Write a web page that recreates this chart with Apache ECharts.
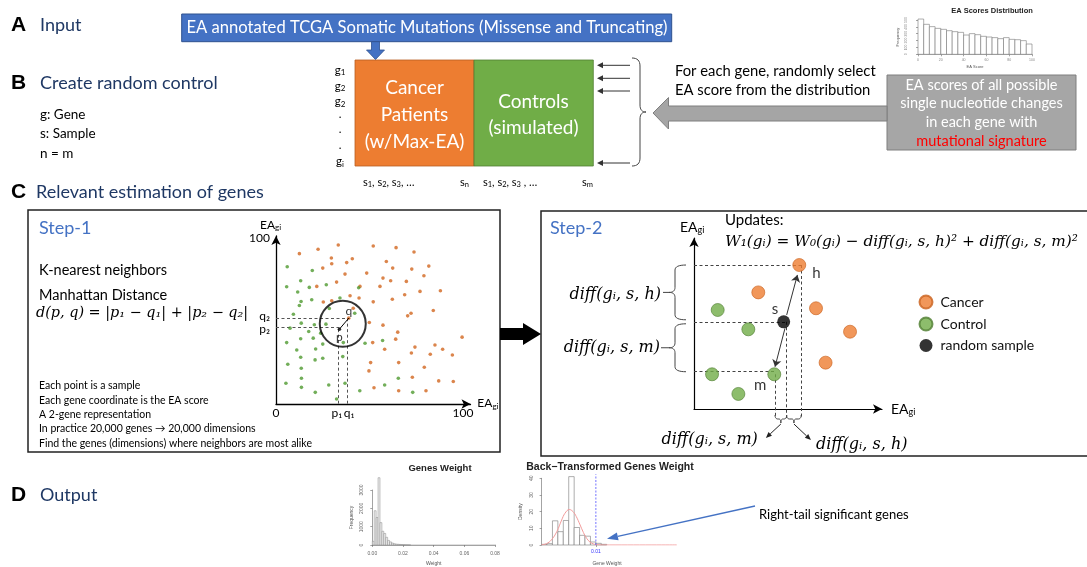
<!DOCTYPE html>
<html><head><meta charset="utf-8">
<script src="https://cdn.jsdelivr.net/npm/echarts@6/dist/echarts.min.js"></script>
<style>html,body{margin:0;padding:0;background:#fff}#c{width:1087px;height:567px}</style>
</head><body><div id="c"></div>
<script>
// ---------------- DATA ----------------
const eaBinStarts=[0,5,10,15,20,25,30,35,40,45,50,55,60,65,70,75,80,85,90,95];
const eaCounts=[514,437,403,378,364,344,330,320,281,301,286,262,252,243,228,243,218,213,199,150];
const eaBinWidth=5;
const step1Cancer=[[12.5,90.4],[22.5,93],[33.3,95.6],[52,95],[64.2,94],[73.8,91.4],[29.6,87.8],[29.8,84.3],[37.8,85],[40.8,87.3],[25,81.7],[36.9,78.1],[48.5,78.7],[59,85.7],[62.4,81.7],[72.6,81.1],[81.7,82.9],[57.2,75.7],[61.3,74.1],[79.1,77.1],[21.8,70.7],[32.4,73.3],[44.9,70.7],[55.6,70.7],[69.7,73.7],[39.6,65.1],[25.3,61.3],[29.8,62],[44.4,63.7],[52,61.4],[62.2,63],[68.8,65.7],[77,67.7],[87.9,68.1],[41.3,57.6],[38.9,51.6],[49.9,49],[57.2,47.4],[70.4,53],[72.2,54.6],[84.1,56.2],[65.1,43.2],[64,39],[99.5,40.2],[51.7,36.9],[58.1,32.9],[74.3,34.2],[72.4,30.7],[85,35.5],[89.1,32.9],[82.5,29.9],[94.3,29.5],[50.6,24.9],[65.6,24.9],[79.3,22.1],[49.7,19.9],[72.9,16.1],[87,13.9],[94.8,13.5],[52.4,9.8],[65.6,8],[80.2,8]];
const step1Control=[[6,82.5],[19.4,80.3],[5.7,70.5],[13.2,74.1],[17.8,70.1],[26.9,71.7],[11.6,67.3],[44.2,69.9],[13.4,61.6],[19.1,62.7],[12.5,59.2],[34.2,63.7],[9.3,54],[28.5,57.4],[42.1,54.6],[13.5,48.6],[20.5,47.6],[26.7,48],[7.5,45.6],[17.5,43.6],[23.9,42.6],[5.7,36.9],[13.2,39.2],[19.9,39.6],[25,36],[36,36.9],[47.6,36.5],[57,38.2],[11.1,32.5],[21.2,33.1],[13.2,28.1],[20.9,26.5],[25,27.5],[35.7,28.5],[6.3,23.9],[13.5,21.5],[5.3,12.5],[13.6,15.5],[13.6,10],[21,7],[28.2,11.4],[36.9,12.5],[44.8,8],[58.1,11.4],[65.4,15.5],[73.1,7],[32.4,3]];
const step1P=[33.9,45];
const step1Q=[38.9,51.6];
const step1CircleCenter=[35.7,48.2];
const step1PLines={p1:33.3,q1:38.3,p2:46,q2:51.6};
const step2Cancer=[[56,84.2],[34.2,68.2],[64.9,58.9],[83,45.2],[70,27.1]];
const step2Control=[[12.6,57.9],[28.9,46.6],[9.6,20.3],[42.7,20.3],[23.6,8.8]];
const step2Random=[[47.7,51]];
const step2Guide={hX:57,sX:49.3,mX:43.1,hY:84.2,sY:51,mY:20.3,below:-5.3};
const step2ArrowSH=[[49.3,55],[55,78.4]];
const step2ArrowSM=[[48.4,47.2],[43.1,24.7]];
const gwBinStarts=[0,0.00125,0.0025,0.00375,0.005,0.00625,0.0075,0.00875,0.01,0.01125,0.0125,0.01375,0.015,0.01625,0.0175,0.01875,0.02,0.02125,0.0225,0.02375];
const gwCounts=[200,1870,1500,3670,1220,750,630,420,250,170,110,70,50,40,30,20,15,10,8,5];
const gwBinWidth=0.00125;
const gwRangeEnd=0.0876;
const btBinStarts=[0,0.001,0.002,0.003,0.004,0.005,0.006,0.007,0.008,0.009,0.010,0.011];
const btDensity=[0.4,0.8,14.5,8,14.7,41,10.5,5.8,5.3,1.8,1,0.4];
const btBinWidth=0.001;
const btCurveX=[0,0.0009,0.0018,0.0028,0.0037,0.0043,0.0051,0.0058,0.0064,0.0071,0.0077,0.0083,0.0089,0.0095,0.0101,0.0114,0.0249];
const btCurveY=[0.1,0.8,3,8,15,19,21.3,20,17,12,7.5,4,1.8,0.7,0.2,0,0];
const btCutoff=0.01;
const btCutoffTop=42.4;

// ---------------- HELPERS ----------------
const BLUE='#4472C4', NAVY='#1F3864', ORANGE='#ED7D31', GREEN='#70AD47';
const FONT='Lato, "Open Sans", "DejaVu Sans", sans-serif';
const MATH='"DejaVu Serif", "Liberation Serif", serif';
const G=[];
function T(x,y,text,o){G.push({type:'text',x:x,y:y,z:20,style:Object.assign({text:text,fill:'#000',fontSize:14,fontFamily:FONT,align:'left',verticalAlign:'middle'},o||{})});}
function R(x,y,w,h,o){G.push({type:'rect',z:5,shape:{x:x,y:y,width:w,height:h},style:Object.assign({fill:'none',stroke:'#000',lineWidth:1},o||{})});}
function POLY(pts,o){G.push({type:'polygon',z:6,shape:{points:pts},style:Object.assign({fill:'#000'},o||{})});}
function CURVE(segs,o){let pts=[],cur=null;const polys=[];
  segs.forEach(function(s){
    if(s[0]==='M'){if(pts.length>1)polys.push(pts);pts=[[s[1],s[2]]];cur=[s[1],s[2]];}
    else if(s[0]==='L'){pts.push([s[1],s[2]]);cur=[s[1],s[2]];}
    else {for(let k=1;k<=8;k++){const t=k/8,u=1-t;pts.push([u*u*cur[0]+2*u*t*s[1]+t*t*s[3],u*u*cur[1]+2*u*t*s[2]+t*t*s[4]]);}cur=[s[3],s[4]];}
  });
  if(pts.length>1)polys.push(pts);
  polys.forEach(function(p){G.push({type:'polyline',z:15,shape:{points:p},style:Object.assign({fill:null,stroke:'#444',lineWidth:1},o||{})});});}
function ARROW(x1,y1,x2,y2,color,w,hl,hw){const a=Math.atan2(y2-y1,x2-x1);const bx=x2-hl*Math.cos(a),by=y2-hl*Math.sin(a);const px=-Math.sin(a)*hw/2,py=Math.cos(a)*hw/2;
  G.push({type:'line',z:15,shape:{x1:x1,y1:y1,x2:bx,y2:by},style:{stroke:color,lineWidth:w}});
  G.push({type:'polygon',z:15,shape:{points:[[x2,y2],[bx+px,by+py],[bx-px,by-py]]},style:{fill:color}});}
function histItem(fill,stroke,lw){return function(params,api){const x0=api.value(0),x1=api.value(1),h=api.value(2);const a=api.coord([x0,h]),b=api.coord([x1,0]);
  return {type:'rect',shape:{x:a[0],y:a[1],width:b[0]-a[0],height:b[1]-a[1]},style:{fill:fill,stroke:stroke,lineWidth:lw}};};}
const sub={a:{fontSize:12,fontFamily:FONT,lineHeight:14,verticalAlign:'middle'},s:{fontSize:8,fontFamily:FONT,lineHeight:8,verticalAlign:'bottom'}};
const sub2={a:{fontSize:14,fontFamily:FONT,lineHeight:16,verticalAlign:'middle'},s:{fontSize:9,fontFamily:FONT,lineHeight:9,verticalAlign:'bottom'}};
const rAxis={axisLine:{show:true,lineStyle:{color:'#666',width:0.6}},axisTick:{show:true,length:2,lineStyle:{color:'#666',width:0.6}},splitLine:{show:false}};
const plain=function(v){return String(v);};

// ---------------- OPTION ----------------
const option={
  animation:false,
  grid:[
    {left:918,top:20,width:114,height:34.3},
    {left:276,top:236,width:194.5,height:168},
    {left:694,top:238,width:188,height:171},
    {left:372.3,top:490,width:122.7,height:60},
    {left:536.7,top:478.3,width:140.6,height:71}
  ],
  legend:{data:['Cancer','Control','random sample'],orient:'vertical',left:913.5,top:289.5,itemWidth:13,itemHeight:13,itemGap:7,icon:'circle',selectedMode:false,
    textStyle:{fontSize:14,fontFamily:FONT,color:'#111',padding:[0,0,0,3]}},
  xAxis:[
    Object.assign({gridIndex:0,type:'value',min:0,max:100,interval:20,offset:2,axisLabel:{fontSize:3.5,color:'#888',margin:2,formatter:plain},name:'EA Score',nameLocation:'middle',nameGap:9,nameTextStyle:{fontSize:4,color:'#555'}},rAxis),
    {gridIndex:1,type:'value',min:0,max:104,splitLine:{show:false},axisTick:{show:false},
      axisLine:{show:true,symbol:['none','arrow'],symbolSize:[7,9],lineStyle:{color:'#000',width:1.3}},
      axisLabel:{customValues:[0,step1PLines.p1-0.8,step1PLines.q1+0.8,100],margin:3,fontSize:12,fontFamily:FONT,color:'#000',
        formatter:function(v){return v===0?'0':v===100?'100':v<step1PLines.q1?'p\u2081':'q\u2081';}},
      name:'{a|EA}{s|gi}',nameLocation:'end',nameGap:5,nameTextStyle:{rich:sub,padding:[0,0,2,0]}},
    {gridIndex:2,type:'value',min:0,max:100,splitLine:{show:false},axisTick:{show:false},axisLabel:{show:false},
      axisLine:{show:true,symbol:['none','arrow'],symbolSize:[7,9],lineStyle:{color:'#000',width:1.2}},
      name:'{a|EA}{s|gi}',nameLocation:'end',nameGap:9,nameTextStyle:{rich:sub2}},
    Object.assign({gridIndex:3,type:'value',min:0,max:0.08,interval:0.02,offset:3,axisLabel:{fontSize:5,color:'#666',margin:3,formatter:function(v){return v.toFixed(2);}},name:'Weight',nameLocation:'middle',nameGap:13,nameTextStyle:{fontSize:5,color:'#555'}},rAxis),
    {gridIndex:4,type:'value',min:-0.0009,max:0.025,splitLine:{show:false},axisLine:{show:false},
      axisTick:{show:true,customValues:[btCutoff],length:2,lineStyle:{color:'#666',width:0.6}},
      axisLabel:{customValues:[btCutoff],fontSize:5,color:'#3333ff',margin:4,formatter:function(v){return v.toFixed(2);}},
      name:'Gene Weight',nameLocation:'middle',nameGap:16,nameTextStyle:{fontSize:5,color:'#555'}}
  ],
  yAxis:[
    Object.assign({gridIndex:0,type:'value',min:0,max:500,interval:100,offset:8,axisLabel:{fontSize:3.5,color:'#888',margin:2,rotate:90,formatter:plain},name:'Frequency',nameLocation:'middle',nameGap:10,nameRotate:90,nameTextStyle:{fontSize:4,color:'#555'}},rAxis),
    {gridIndex:1,type:'value',min:0,max:101,splitLine:{show:false},axisTick:{show:false},
      axisLine:{show:true,symbol:['none','arrow'],symbolSize:[7,9],lineStyle:{color:'#000',width:1.3}},
      axisLabel:{customValues:[step1PLines.p2-1,step1PLines.q2+1,100],margin:6,fontSize:12,fontFamily:FONT,color:'#000',
        formatter:function(v){return v===100?'100':v<step1PLines.q2?'p\u2082':'q\u2082';}},
      name:'{a|EA}{s|gi}',nameLocation:'end',nameGap:3,nameTextStyle:{rich:sub,align:'left',padding:[0,0,0,-16]}},
    {gridIndex:2,type:'value',min:0,max:100,splitLine:{show:false},axisTick:{show:false},axisLabel:{show:false},
      axisLine:{show:true,symbol:['none','arrow'],symbolSize:[7,9],lineStyle:{color:'#000',width:1.2}},
      name:'{a|EA}{s|gi}',nameLocation:'end',nameGap:3,nameTextStyle:{rich:sub2,align:'left',padding:[0,0,0,-14]}},
    Object.assign({gridIndex:3,type:'value',min:0,max:3000,interval:1000,offset:5,axisLabel:{fontSize:5,color:'#666',margin:3,rotate:90,formatter:plain},name:'Frequency',nameLocation:'middle',nameGap:13,nameRotate:90,nameTextStyle:{fontSize:5,color:'#555'}},rAxis),
    Object.assign({gridIndex:4,type:'value',min:0,max:40,interval:10,axisLabel:{fontSize:5,color:'#666',margin:3,rotate:90,formatter:plain},name:'Density',nameLocation:'middle',nameGap:14,nameRotate:90,nameTextStyle:{fontSize:5,color:'#555'}},rAxis)
  ],
  series:[
    {type:'custom',name:'ea',xAxisIndex:0,yAxisIndex:0,clip:false,renderItem:histItem('#fff','#777',0.6),
      data:eaBinStarts.map(function(s,i){return [s,s+eaBinWidth,eaCounts[i]];})},
    {type:'scatter',name:'c1',xAxisIndex:1,yAxisIndex:1,symbolSize:3.6,itemStyle:{color:'#D2661F'},data:step1Cancer,z:3},
    {type:'scatter',name:'g1',xAxisIndex:1,yAxisIndex:1,symbolSize:3.6,itemStyle:{color:'#4F9A2F'},data:step1Control,z:3},
    {type:'lines',coordinateSystem:'cartesian2d',xAxisIndex:1,yAxisIndex:1,clip:false,z:2,
      lineStyle:{color:'#555',width:1,type:[3,2.5],opacity:1},
      data:[{coords:[[0,step1PLines.q2],[step1Q[0]+0.7,step1PLines.q2]]},{coords:[[0,step1PLines.p2],[step1P[0],step1PLines.p2]]},
            {coords:[[step1PLines.p1,step1P[1]],[step1PLines.p1,0]]},{coords:[[step1PLines.q1,step1Q[1]],[step1PLines.q1,0]]}]},
    {type:'lines',coordinateSystem:'cartesian2d',xAxisIndex:1,yAxisIndex:1,z:4,lineStyle:{color:'#000',width:1,opacity:1},data:[{coords:[step1P,step1Q]}]},
    {type:'scatter',name:'p',xAxisIndex:1,yAxisIndex:1,symbolSize:3.5,itemStyle:{color:'#000'},data:[step1P],z:5,
      label:{show:true,formatter:'p',position:'bottom',distance:0,fontSize:12,fontFamily:FONT,color:'#000'}},
    {type:'scatter',name:'qlbl',xAxisIndex:1,yAxisIndex:1,symbolSize:1,itemStyle:{color:'transparent'},data:[step1Q],z:5,
      label:{show:true,formatter:'q',position:'top',distance:1,fontSize:12,fontFamily:FONT,color:'#000'}},
    {type:'scatter',name:'circle',xAxisIndex:1,yAxisIndex:1,symbolSize:46,itemStyle:{color:'rgba(0,0,0,0)',borderColor:'#000',borderWidth:2},data:[step1CircleCenter],z:6,silent:true},
    {type:'lines',coordinateSystem:'cartesian2d',xAxisIndex:2,yAxisIndex:2,clip:false,z:2,
      lineStyle:{color:'#444',width:1,type:[3,2.5],opacity:1},
      data:[{coords:[[0,step2Guide.hY],[step2Guide.hX,step2Guide.hY]]},{coords:[[0,step2Guide.sY],[step2Guide.sX,step2Guide.sY]]},{coords:[[0,step2Guide.mY+1.5],[step2Guide.mX,step2Guide.mY+1.5]]},
            {coords:[[step2Guide.hX,step2Guide.hY],[step2Guide.hX,step2Guide.below]]},{coords:[[step2Guide.sX,step2Guide.sY],[step2Guide.sX,step2Guide.below]]},{coords:[[step2Guide.mX,step2Guide.mY],[step2Guide.mX,step2Guide.below]]}]},
    {type:'lines',coordinateSystem:'cartesian2d',xAxisIndex:2,yAxisIndex:2,z:8,symbol:['none','arrow'],symbolSize:7,
      lineStyle:{color:'#333',width:1,opacity:1},data:[{coords:step2ArrowSH},{coords:step2ArrowSM}]},
    {type:'scatter',name:'Cancer',xAxisIndex:2,yAxisIndex:2,symbolSize:13,z:5,itemStyle:{color:ORANGE,borderColor:'#C9611E',borderWidth:0.8},
      data:step2Cancer.map(function(d,i){return i===0?{value:d,label:{show:true,formatter:'h',position:'right',offset:[1,8],fontSize:15,fontFamily:FONT,color:'#000'}}:d;})},
    {type:'scatter',name:'Control',xAxisIndex:2,yAxisIndex:2,symbolSize:13,z:5,itemStyle:{color:GREEN,borderColor:'#507E32',borderWidth:0.8},
      data:step2Control.map(function(d,i){return i===3?{value:d,label:{show:true,formatter:'m',position:'left',offset:[4,11],fontSize:15,fontFamily:FONT,color:'#000'}}:d;})},
    {type:'scatter',name:'random sample',xAxisIndex:2,yAxisIndex:2,symbolSize:13,z:6,itemStyle:{color:'#000'},
      data:step2Random.map(function(d){return {value:d,label:{show:true,formatter:'s',position:'left',offset:[6,-13],fontSize:15,fontFamily:FONT,color:'#000'}};})},
    {type:'custom',name:'gw',xAxisIndex:3,yAxisIndex:3,clip:false,renderItem:histItem('#eeeeee','#888',0.5),
      data:gwBinStarts.map(function(s,i){return [s,s+gwBinWidth,gwCounts[i]];})},
    {type:'line',xAxisIndex:3,yAxisIndex:3,symbol:'none',lineStyle:{color:'#999',width:0.6},data:[[0,0],[gwRangeEnd,0]],z:1},
    {type:'custom',name:'bt',xAxisIndex:4,yAxisIndex:4,clip:false,renderItem:histItem('#fff','#777',0.6),
      data:btBinStarts.map(function(s,i){return [s,s+btBinWidth,btDensity[i]];})},
    {type:'line',xAxisIndex:4,yAxisIndex:4,symbol:'none',smooth:0.4,lineStyle:{color:'#F29B9B',width:1},z:4,
      data:btCurveX.map(function(x,i){return [x,btCurveY[i]];})},
    {type:'line',xAxisIndex:4,yAxisIndex:4,symbol:'none',clip:false,lineStyle:{color:'#5050ff',width:0.8,type:[2,1.5]},z:5,
      data:[[btCutoff,0],[btCutoff,btCutoffTop]]}
  ]
};

const chart=echarts.init(document.getElementById('c'));
chart.setOption(option);
const P2=function(pt){return chart.convertToPixel({xAxisIndex:2,yAxisIndex:2},pt);};

// ---------------- DIAGRAM GRAPHICS ----------------
const HB={fontFamily:'"Liberation Sans", Arial, sans-serif',fontWeight:'bold',fontSize:21};
T(11,25,'A',HB); T(40,25,'Input',{fill:NAVY,fontSize:18});
R(181.7,14,490,27.7,{fill:BLUE,stroke:'#2F528F',lineWidth:1});
T(427,28,'EA annotated TCGA Somatic Mutations (Missense and Truncating)',{fill:'#fff',fontSize:16.6,align:'center'});
POLY([[371.5,41.7],[379.5,41.7],[379.5,50],[384.5,50],[375.5,59.5],[366.5,50],[371.5,50]],{fill:BLUE,stroke:'#2F528F',lineWidth:0.8});
T(992,11,'EA Scores Distribution',{fontFamily:'"Liberation Sans", Arial',fontWeight:'bold',fontSize:7.5,align:'center',fill:'#222'});
T(11,83,'B',HB); T(40,83,'Create random control',{fill:NAVY,fontSize:18});
T(40,115,'g: Gene',{fontSize:13.5}); T(40,134,'s: Sample',{fontSize:13.5}); T(40,154,'n = m',{fontSize:13.5});
R(355,60,119,106,{fill:ORANGE,stroke:'#B85E22',lineWidth:0.8});
R(474,60,119.3,106,{fill:GREEN,stroke:'#507E32',lineWidth:0.8});
T(414.5,88,'Cancer',{fill:'#fff',fontSize:19,align:'center'});
T(414.5,115,'Patients',{fill:'#fff',fontSize:19,align:'center'});
T(414.5,142,'(w/Max-EA)',{fill:'#fff',fontSize:19,align:'center'});
T(533.5,102,'Controls',{fill:'#fff',fontSize:19,align:'center'});
T(533.5,128,'(simulated)',{fill:'#fff',fontSize:19,align:'center'});
const gSub={g:{fontSize:11.5,fontFamily:FONT},s:{fontSize:8,fontFamily:FONT,padding:[5,0,0,0]}};
[['1',70],['2',86],['2',101.7],['i',161.7]].forEach(function(a){T(340,a[1],'{g|g}{s|'+a[0]+'}',{align:'center',rich:gSub});});
[114,129,145].forEach(function(y){T(340,y,'.',{fontSize:11.5,align:'center'});});
const sSub={g:{fontSize:11,fontFamily:FONT},s:{fontSize:7.5,fontFamily:FONT,padding:[5,0,0,0]}};
T(363,182,'{g|s}{s|1}{g|, s}{s|2}{g|, s}{s|3}{g|, \u2026}',{rich:sSub});
T(460,182,'{g|s}{s|n}',{rich:sSub});
T(483,182,'{g|s}{s|1}{g|, s}{s|2}{g|, s}{s|3}{g| , \u2026}',{rich:sSub});
T(582,182,'{g|s}{s|m}',{rich:sSub});
[65.3,78.3,91,163].forEach(function(y){ARROW(630,y,597,y,'#333',1,6,6);});
CURVE([['M',632,58],['Q',640,58,640,66],['L',640,105],['Q',640,112,646,112],['M',646,112],['Q',640,112,640,119],['L',640,158],['Q',640,166,632,166]],{stroke:'#444'});
T(675,71.7,'For each gene, randomly select',{fontSize:14.8});
T(675,90.7,'EA score from the distribution',{fontSize:14.8});
POLY([[653,113],[668.5,97.5],[668.5,106],[887,106],[887,121],[668.5,121],[668.5,129]],{fill:'#A5A5A5',stroke:'#7F7F7F',lineWidth:1});
R(887,75,189,75,{fill:'#A6A6A6',stroke:'#7F7F7F',lineWidth:1});
T(981.5,85,'EA scores of all possible',{fill:'#fff',fontSize:14.5,align:'center'});
T(981.5,103.5,'single nucleotide changes',{fill:'#fff',fontSize:14.5,align:'center'});
T(981.5,122.5,'in each gene with',{fill:'#fff',fontSize:14.5,align:'center'});
T(981.5,141.5,'mutational signature',{fill:'#FF0000',fontSize:14.5,align:'center'});
T(11,192,'C',HB); T(36,192,'Relevant estimation of genes',{fill:NAVY,fontSize:18});
R(28,210,472,242,{stroke:'#222',lineWidth:1.5});
R(541,211,560,245,{stroke:'#222',lineWidth:1.5});
POLY([[541,334],[523,323],[523,328],[500,328],[500,340],[523,340],[523,345]],{fill:'#000'});
T(39,228,'Step-1',{fill:BLUE,fontSize:18});
T(39,270,'K-nearest neighbors',{fontSize:14.5});
T(39,295,'Manhattan Distance',{fontSize:14.5});
T(36,313,'d(p, q) = |p\u2081 \u2212 q\u2081| + |p\u2082 \u2212 q\u2082|',{fontFamily:MATH,fontStyle:'italic',fontSize:14.4});
['Each point is a sample','Each gene coordinate is the EA score','A 2-gene representation','In practice 20,000 genes \u2192 20,000 dimensions','Find the genes (dimensions) where neighbors are most alike']
  .forEach(function(s,i){T(39,386+i*14.3,s,{fontSize:10.5});});
T(550,228,'Step-2',{fill:BLUE,fontSize:18});
T(725,220,'Updates:',{fontSize:15});
T(725,242,'W\u2081(g\u1d62) = W\u2080(g\u1d62) \u2212 diff(g\u1d62, s, h)\u00b2 + diff(g\u1d62, s, m)\u00b2',{fontFamily:MATH,fontStyle:'italic',fontSize:15.3});
(function(){
  const h=P2([0,step2Guide.hY]), s=P2([0,step2Guide.sY]), m=P2([0,step2Guide.mY+1.5]);
  const xs=h[0]-19, xr=h[0]-8, xt=h[0]-31, r=5;
  function lb(t,b,tip){const mid=(t+b)/2;return [['M',xr,t],['Q',xs,t,xs,t+r],['L',xs,mid-r],['Q',xs,mid,xs-6,mid],['L',tip,mid],['M',xs-6,mid],['Q',xs,mid,xs,mid+r],['L',xs,b-r],['Q',xs,b,xr,b]];}
  CURVE(lb(h[1],s[1]-2,xt));
  CURVE(lb(s[1]+2,m[1],xt-2));
  T(xt-2,(h[1]+s[1])/2+1,'diff(g\u1d62, s, h)',{fontFamily:MATH,fontStyle:'italic',fontSize:16,align:'right'});
  T(xt-3,(s[1]+m[1])/2+1,'diff(g\u1d62, s, m)',{fontFamily:MATH,fontStyle:'italic',fontSize:16,align:'right'});
  const xm=P2([step2Guide.mX,0])[0], xsx=P2([step2Guide.sX,0])[0], xh=P2([step2Guide.hX,0])[0], y0=P2([0,0])[1];
  function bb(a,b){const mid=(a+b)/2,t=y0+6,c=y0+10;return [['M',a,t],['Q',a,c,a+3,c],['L',mid-2,c],['Q',mid,c,mid,c+4],['M',mid,c+4],['Q',mid,c,mid+2,c],['L',b-3,c],['Q',b,c,b,t]];}
  CURVE(bb(xm,xsx)); CURVE(bb(xsx,xh));
  const m1=(xm+xsx)/2, m2=(xsx+xh)/2;
  ARROW(m1,y0+15,m1-15,y0+29,'#222',1,6,5);
  ARROW(m2,y0+15,m2+17,y0+31,'#222',1,6,5);
  T(m1-23,y0+31,'diff(g\u1d62, s, m)',{fontFamily:MATH,fontStyle:'italic',fontSize:16,align:'right'});
  T(m2+22,y0+36,'diff(g\u1d62, s, h)',{fontFamily:MATH,fontStyle:'italic',fontSize:16});
})();
T(11,495,'D',HB); T(40,495,'Output',{fill:NAVY,fontSize:18});
T(440,468,'Genes Weight',{fontFamily:'"Liberation Sans", Arial',fontWeight:'bold',fontSize:9.5,align:'center',fill:'#222'});
T(610,467,'Back\u2212Transformed Genes Weight',{fontFamily:'"Liberation Sans", Arial',fontWeight:'bold',fontSize:10.5,align:'center',fill:'#222'});
ARROW(755,506,607,538.7,BLUE,1.3,11,8);
T(759,515,'Right-tail significant genes',{fontSize:13});

chart.setOption({graphic:G});
</script></body></html>
